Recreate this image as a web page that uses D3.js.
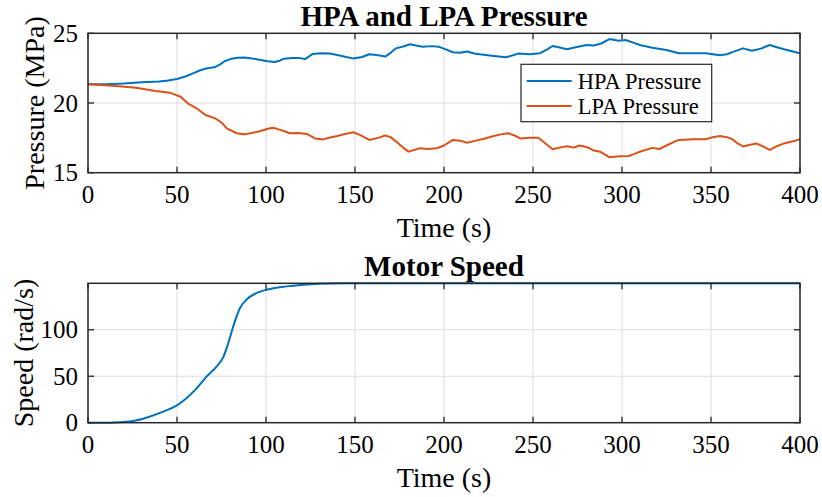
<!DOCTYPE html>
<html>
<head>
<meta charset="utf-8">
<script src="https://cdn.jsdelivr.net/npm/d3@7/dist/d3.min.js"></script>
<style>
  html, body { margin: 0; padding: 0; background: #fff; }
</style>
</head>
<body>
<svg id="chart" width="822" height="497"></svg>
<script>
// Time axis ticks shared by both panels
const timeTicks = [0, 50, 100, 150, 200, 250, 300, 350, 400];
const pressureTicks = [15, 20, 25];
const speedTicks = [0, 50, 100];

// Accumulator pressures (MPa) sampled over time (s)
const hpaTime = [0, 10, 20, 30, 40, 45, 50, 55, 59, 63, 67, 71, 74, 77, 80, 84, 88, 92, 97, 101,
  105, 108, 110, 115, 119, 122, 126, 131, 136, 140, 145, 149, 154, 158, 163, 167, 170, 173, 177, 181,
  185, 188, 193, 197, 201, 205, 209, 213, 217, 220, 228, 235, 242, 248, 254, 258, 261, 265, 269, 274,
  280, 284, 288, 293, 298, 302, 306, 310, 317, 325, 332, 340, 347, 355, 359, 362, 368, 373, 378, 383,
  387, 391, 396, 400];
const hpaPressure = [21.34, 21.35, 21.4, 21.48, 21.55, 21.62, 21.72, 21.92, 22.13, 22.35, 22.49, 22.56, 22.75, 23.01, 23.15, 23.25, 23.27, 23.2, 23.08, 23.0,
  22.94, 23.05, 23.18, 23.22, 23.22, 23.15, 23.51, 23.57, 23.55, 23.45, 23.3, 23.2, 23.3, 23.5, 23.42, 23.33, 23.6, 23.92, 24.05, 24.21,
  24.1, 24.04, 24.08, 24.04, 23.85, 23.64, 23.6, 23.7, 23.55, 23.5, 23.38, 23.28, 23.55, 23.5, 23.57, 23.85, 24.09, 23.98, 23.85, 24.0,
  24.16, 24.12, 24.25, 24.59, 24.47, 24.52, 24.35, 24.16, 23.97, 23.8, 23.57, 23.57, 23.57, 23.42, 23.5, 23.65, 23.92, 23.75, 23.9, 24.16,
  24.0, 23.85, 23.7, 23.57];

const lpaTime = [0, 14, 27, 38, 46, 52, 56.5, 61, 66, 71.5, 75, 78, 83.5, 88, 92, 97, 101, 104, 108, 113.6,
  118, 123, 127.5, 132, 136, 140, 145, 149, 153, 158, 163, 167, 170, 173.4, 177, 180, 186.5, 191, 196, 200,
  205, 209, 213, 218, 223, 228, 232, 236, 240, 243, 248, 253, 257, 261, 265, 269, 273, 276, 280, 284,
  288, 293, 298.7, 304, 307, 310, 317, 321, 325, 329, 332, 340, 347, 351, 355, 359, 362, 365, 368, 372,
  375.5, 379, 383, 387, 391, 396, 400];
const lpaPressure = [21.34, 21.24, 21.1, 20.86, 20.74, 20.45, 19.93, 19.62, 19.14, 18.9, 18.6, 18.18, 17.83, 17.75, 17.85, 17.99, 18.15, 18.23, 18.07, 17.83,
  17.85, 17.78, 17.46, 17.39, 17.53, 17.63, 17.8, 17.9, 17.7, 17.35, 17.5, 17.67, 17.55, 17.2, 16.8, 16.51, 16.75, 16.7, 16.75, 16.95,
  17.35, 17.3, 17.15, 17.3, 17.45, 17.63, 17.75, 17.83, 17.65, 17.45, 17.5, 17.51, 17.1, 16.68, 16.8, 16.9, 16.8, 16.95, 16.85, 16.6,
  16.5, 16.1, 16.18, 16.2, 16.35, 16.5, 16.78, 16.7, 16.95, 17.2, 17.35, 17.4, 17.4, 17.55, 17.63, 17.55, 17.4, 17.1, 16.88, 17.0,
  17.1, 16.9, 16.63, 16.9, 17.1, 17.25, 17.4];

// Motor speed (rad/s)
const speedTime = [0, 10, 15, 20, 25.3, 32.8, 42.2, 49.7, 55.3, 61, 66.6, 72.2, 76, 78.8, 81.6, 85.4, 89, 94.8, 100.4, 111.6,
  122.9, 136, 150, 400];
const speedValue = [0, 0, 0.2, 0.8, 1.8, 5.4, 11.9, 18.3, 26.3, 37, 49.6, 60.4, 70.5, 85.6, 103.6, 123.4, 132.4, 139.6, 143.1, 146.7,
  148.8, 149.9, 150, 150];

const seriesNames = ["HPA Pressure", "LPA Pressure"];
const colors = ["#0072BD", "#D95319"];

const FONT = "'Liberation Serif', 'Times New Roman', Times, serif";
const svg = d3.select("#chart");
const left = 88, right = 800;
const panels = [
  { top: 33.3, bottom: 172.7, domain: [15, 25], ticks: pressureTicks, title: "HPA and LPA Pressure", ylabel: "Pressure (MPa)", ylx: 44 },
  { top: 283.3, bottom: 422.7, domain: [0, 150], ticks: speedTicks, title: "Motor Speed", ylabel: "Speed (rad/s)", ylx: 33 }
];

const x = d3.scaleLinear().domain([0, 400]).range([left, right]);
const tickFont = 25, labelFont = 28, titleFont = 29;

function txt(sel) {
  return sel.append("text").attr("font-family", FONT).attr("fill", "#000");
}

function drawPanel(p) {
  const y = d3.scaleLinear().domain(p.domain).range([p.bottom, p.top]);
  const g = svg.append("g");
  // grid
  g.append("g").selectAll("line").data(timeTicks.slice(1, -1)).join("line")
    .attr("x1", d => x(d)).attr("x2", d => x(d)).attr("y1", p.top).attr("y2", p.bottom)
    .attr("stroke", "#dedede").attr("stroke-width", 1);
  g.append("g").selectAll("line").data(p.ticks.filter(d => d > p.domain[0] && d < p.domain[1])).join("line")
    .attr("x1", left).attr("x2", right).attr("y1", d => y(d)).attr("y2", d => y(d))
    .attr("stroke", "#dedede").attr("stroke-width", 1);
  return { g, y };
}

function drawFrame(p, y) {
  const g = svg.append("g");
  const tl = 6;
  // inward ticks on all four sides
  timeTicks.forEach(d => {
    g.append("line").attr("x1", x(d)).attr("x2", x(d)).attr("y1", p.bottom).attr("y2", p.bottom - tl).attr("stroke", "#262626").attr("stroke-width", 1.3);
    g.append("line").attr("x1", x(d)).attr("x2", x(d)).attr("y1", p.top).attr("y2", p.top + tl).attr("stroke", "#262626").attr("stroke-width", 1.3);
  });
  p.ticks.forEach(d => {
    g.append("line").attr("x1", left).attr("x2", left + tl).attr("y1", y(d)).attr("y2", y(d)).attr("stroke", "#262626").attr("stroke-width", 1.3);
    g.append("line").attr("x1", right).attr("x2", right - tl).attr("y1", y(d)).attr("y2", y(d)).attr("stroke", "#262626").attr("stroke-width", 1.3);
  });
  g.append("rect").attr("x", left).attr("y", p.top).attr("width", right - left).attr("height", p.bottom - p.top)
    .attr("fill", "none").attr("stroke", "#262626").attr("stroke-width", 1.5);

  // tick labels
  timeTicks.forEach(d => {
    txt(g).attr("x", x(d)).attr("y", p.bottom + 30).attr("text-anchor", "middle")
      .attr("font-size", tickFont).text(d);
  });
  p.ticks.forEach(d => {
    txt(g).attr("x", left - 10).attr("y", y(d) + 8.5).attr("text-anchor", "end")
      .attr("font-size", tickFont).text(d);
  });

  // axis labels and title
  txt(g).attr("x", (left + right) / 2).attr("y", p.bottom + 64).attr("text-anchor", "middle")
    .attr("font-size", labelFont).text("Time (s)");
  txt(g).attr("transform", `translate(${p.ylx},${(p.top + p.bottom) / 2}) rotate(-90)`)
    .attr("text-anchor", "middle").attr("font-size", labelFont).text(p.ylabel);
  txt(g).attr("x", (left + right) / 2).attr("y", p.top - 7).attr("text-anchor", "middle")
    .attr("font-size", titleFont).attr("font-weight", "bold").text(p.title);
}

// Pressure panel
const p0 = drawPanel(panels[0]);
const line = d3.line().x(d => x(d[0])).y(d => p0.y(d[1]));
[[hpaTime, hpaPressure], [lpaTime, lpaPressure]].forEach((s, i) => {
  p0.g.append("path").datum(d3.zip(s[0], s[1]))
    .attr("d", line).attr("fill", "none").attr("stroke", colors[i]).attr("stroke-width", 2)
    .attr("stroke-linejoin", "round");
});
drawFrame(panels[0], p0.y);

// Legend
const leg = svg.append("g");
leg.append("rect").attr("x", 521).attr("y", 64.3).attr("width", 190.7).attr("height", 57.4)
  .attr("fill", "#fff").attr("stroke", "#262626").attr("stroke-width", 1.2);
seriesNames.forEach((n, i) => {
  const cy = 81 + i * 25;
  leg.append("line").attr("x1", 526.7).attr("x2", 571.7).attr("y1", cy).attr("y2", cy)
    .attr("stroke", colors[i]).attr("stroke-width", 2);
  txt(leg).attr("x", 577.7).attr("y", cy + 7.5).attr("font-size", 22.5).text(n);
});

// Speed panel
const p1 = drawPanel(panels[1]);
const sline = d3.line().curve(d3.curveMonotoneX).x(d => x(d[0])).y(d => p1.y(d[1]));
p1.g.append("path").datum(d3.zip(speedTime, speedValue))
  .attr("d", sline).attr("fill", "none").attr("stroke", colors[0]).attr("stroke-width", 2);
drawFrame(panels[1], p1.y);
</script>
</body>
</html>
